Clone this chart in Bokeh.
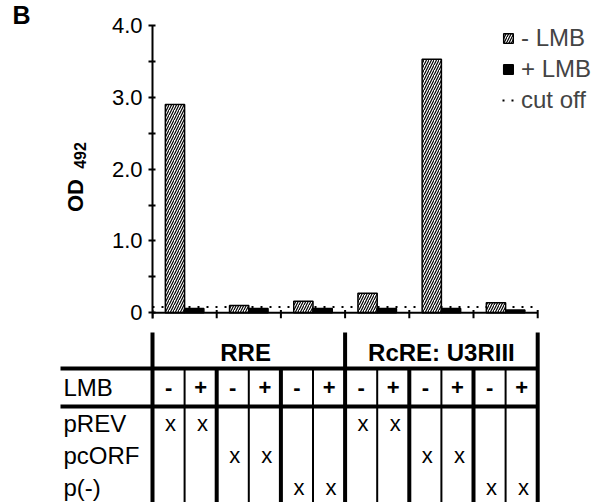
import numpy as np
from bokeh.plotting import figure
from bokeh.models import Range1d, FixedTicker, Legend, LegendItem
from bokeh.layouts import column, row
from bokeh.embed import file_html
from bokeh.resources import INLINE
from bokeh.core.properties import value

# ---------------- data ----------------
constructs = ["RRE", "RcRE: U3RIII"]
plasmids = ["pREV", "pcORF", "p(-)"]
lmb_signs = ["-", "+"]
od_minus_lmb = [2.90, 0.10, 0.16, 0.27, 3.53, 0.14]
od_plus_lmb = [0.06, 0.06, 0.06, 0.06, 0.06, 0.04]
cutoff = 0.08
y_ticks = [0, 1, 2, 3, 4]
y_minor_ticks = [0.5, 1.5, 2.5, 3.5]
y_tick_labels = ["0", "1.0", "2.0", "3.0", "4.0"]
legend_labels = ["- LMB", "+ LMB", "cut off"]
panel_letter = "B"
y_title, y_title_sub = "OD", "492"

# ---------------- layout constants (page pixels) ----------------
FONT = "Liberation Sans"
W, H = 595, 502
TOP_H = 330
LEFT_W = 104
FRAME_L, FRAME_T, FRAME_B = 152, 25, 318
PX_PER_GROUP = 64.2
Y0, Y1 = -0.08, 4.0
PX_PER_OD = (FRAME_B - FRAME_T) / (Y1 - Y0)

def gx(px):
    return (px - FRAME_L) / PX_PER_GROUP

def gy(py):
    return Y1 - (py - FRAME_T) / PX_PER_OD

n_groups = len(od_minus_lmb)
gidx = np.arange(n_groups)
minus_x = gidx + 0.35
plus_x = gidx + 0.65
edges = np.arange(n_groups + 1)

def clean(p):
    p.outline_line_color = None
    p.grid.visible = False
    p.background_fill_color = "white"
    p.border_fill_color = "white"

# ---------------- left text strip ----------------
left = figure(width=LEFT_W, height=TOP_H, output_backend="svg", toolbar_location=None,
              x_range=Range1d(gx(0), gx(LEFT_W)), y_range=Range1d(gy(TOP_H), gy(0)),
              x_axis_location=None, y_axis_location=None, min_border=0,
              frame_align=False)
clean(left)
left.text(x=[gx(12)], y=[gy(14)], text=[panel_letter], text_font=value(FONT),
          text_font_size=value("25px"), text_font_style="bold",
          text_align="left", text_baseline="middle", text_color="black")
left.text(x=[gx(75)], y=[gy(195)], text=[y_title], text_font=value(FONT),
          text_font_size=value("22px"), text_font_style="bold", angle=np.pi / 2,
          text_align="center", text_baseline="alphabetic", text_color="black")
left.text(x=[gx(79)], y=[gy(155)], text=[y_title_sub], text_font=value(FONT),
          text_font_size=value("16px"), text_font_style="bold", angle=np.pi / 2,
          text_align="center", text_baseline="alphabetic", text_color="black")

# ---------------- bar chart ----------------
TOP_W = W - LEFT_W
top = figure(width=TOP_W, height=TOP_H, output_backend="svg", toolbar_location=None,
             x_range=Range1d(0, gx(W)), y_range=Range1d(Y0, Y1),
             x_axis_location=None, min_border_left=FRAME_L - LEFT_W,
             min_border_right=0, min_border_top=FRAME_T,
             min_border_bottom=TOP_H - FRAME_B, frame_align=False)
clean(top)

ax = top.yaxis[0]
ax.ticker = FixedTicker(ticks=y_ticks, minor_ticks=y_minor_ticks)
ax.major_label_overrides = {float(t): l for t, l in zip(y_ticks, y_tick_labels)}
ax.axis_line_width = 2
ax.axis_line_color = "black"
ax.major_tick_line_width = 2
ax.minor_tick_line_width = 2
ax.major_tick_line_color = "black"
ax.minor_tick_line_color = "black"
ax.major_tick_out = 4
ax.major_tick_in = 3
ax.minor_tick_out = 4
ax.minor_tick_in = 3
ax.major_label_standoff = 6
ax.major_label_text_font = FONT
ax.major_label_text_font_size = "22px"
ax.major_label_text_color = "black"

r_cut = top.segment(x0=[0], y0=[cutoff], x1=[n_groups], y1=[cutoff],
                    line_color="black", line_width=2, line_dash="2 7")
r_minus = top.vbar(x=minus_x, top=od_minus_lmb, width=0.3, bottom=0,
                   fill_color="white", line_color="black", line_width=1.5,
                   hatch_pattern="/", hatch_color="black", hatch_scale=5,
                   hatch_weight=1.2)
r_plus = top.vbar(x=plus_x, top=od_plus_lmb, width=0.3, bottom=0,
                  fill_color="black", line_color="black", line_width=1.5)
top.segment(x0=[gx(149)], y0=[0], x1=[n_groups], y1=[0], line_color="black", line_width=2)
top.segment(x0=edges, y0=[Y0] * len(edges), x1=edges, y1=[0.04] * len(edges),
            line_color="black", line_width=2)

legend = Legend(items=[LegendItem(label=legend_labels[0], renderers=[r_minus]),
                       LegendItem(label=legend_labels[1], renderers=[r_plus]),
                       LegendItem(label=legend_labels[2], renderers=[r_cut])],
                location=(502 - FRAME_L, FRAME_B - 114), padding=0, margin=0, spacing=3,
                glyph_width=12, glyph_height=12, label_standoff=7,
                label_height=24, label_text_font=FONT,
                label_text_font_size="24px", border_line_color=None,
                background_fill_alpha=0)
top.add_layout(legend)

# ---------------- table ----------------
BOT_H = H - TOP_H
HEAD_TOP, LINE1, LINE2, BOTTOM = 2, 38, 76, BOT_H
HEAD_Y, LMB_Y = 22, 57
ROW_Y = [93, 125, 157]
LABEL_X = gx(63)
LINE_X0 = gx(60)

bot = figure(width=W, height=BOT_H, output_backend="svg", toolbar_location=None,
             x_range=Range1d(gx(0), gx(W)), y_range=Range1d(BOT_H, 0),
             x_axis_location=None, y_axis_location=None, min_border=0,
             frame_align=False)
clean(bot)

bot.segment(x0=[LINE_X0, LINE_X0], y0=[LINE1, LINE2], x1=[n_groups, n_groups],
            y1=[LINE1, LINE2], line_color="black", line_width=4)
n_per = n_groups // len(constructs)
sep = [0, n_per, n_groups]
bot.segment(x0=sep, y0=[HEAD_TOP] * 3, x1=sep, y1=[BOTTOM] * 3,
            line_color="black", line_width=4)
inner = [e for e in edges if e not in sep]
bot.segment(x0=inner, y0=[LINE1] * len(inner), x1=inner, y1=[BOTTOM] * len(inner),
            line_color="black", line_width=4)
half = gidx + 0.5
bot.segment(x0=half, y0=[LINE1] * n_groups, x1=half, y1=[BOTTOM] * n_groups,
            line_color="black", line_width=2)

bot.text(x=[n_per / 2 - 0.05, n_per + n_per / 2], y=[HEAD_Y, HEAD_Y], text=constructs,
         text_font=value(FONT), text_font_size=value("24px"), text_font_style="bold",
         text_align="center", text_baseline="middle", text_color="black")
bot.text(x=[LABEL_X] * 4, y=[LMB_Y] + ROW_Y, text=["LMB"] + plasmids,
         text_font=value(FONT), text_font_size=value("24px"),
         text_align="left", text_baseline="middle", text_color="black")
sx, sy, st = [], [], []
for g in gidx:
    for k, s in enumerate(lmb_signs):
        sx.append(g + 0.25 + 0.5 * k)
        sy.append(LMB_Y)
        st.append(s)
bot.text(x=sx, y=sy, text=st, text_font=value(FONT), text_font_size=value("22px"),
         text_font_style="bold", text_align="center", text_baseline="middle",
         text_color="black")
mx, my = [], []
for g in gidx:
    p = g % len(plasmids)
    for k in range(2):
        mx.append(g + 0.28 + 0.5 * k)
        my.append(ROW_Y[p])
bot.text(x=mx, y=my, text=["x"] * len(mx), text_font=value(FONT),
         text_font_size=value("22px"), text_align="center", text_baseline="middle",
         text_color="black")

layout = column(row(left, top, spacing=0), bot, spacing=0)
open("out.html", "w").write(file_html(layout, INLINE))
